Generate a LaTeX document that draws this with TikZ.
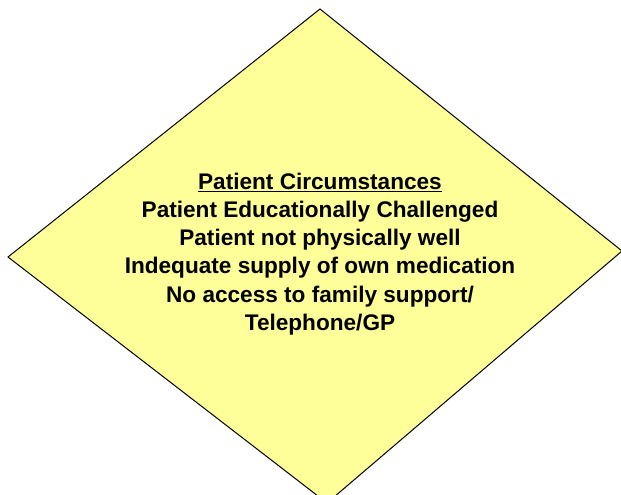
\documentclass[tikz,border=0pt]{standalone}
\usepackage{fontspec}
\setmainfont{Liberation Sans}
\definecolor{diafill}{HTML}{FFFF99}
\tikzset{
  diaborder/.style={draw=black, line width=1pt, fill=diafill, line join=miter},
  label text/.style={align=center, font=\bfseries\fontsize{22.6}{28.3}\selectfont, inner sep=0pt}
}
\begin{document}
\begin{tikzpicture}[x=1pt,y=-1pt]
\useasboundingbox (0,0) rectangle (621,495);
\begin{scope}
\clip (0,0) rectangle (621,495);
\draw[diaborder] (320,9) coordinate (top) -- (622,251) coordinate (right) -- (327,503) coordinate (bottom) -- (8,257) coordinate (left) -- cycle;
\end{scope}
\node[label text] (txt) at (320,254) {\underline{Patient Circumstances}\\Patient Educationally Challenged\\Patient not physically well\\Indequate supply of own medication\\No access to family support/\\Telephone/GP};
\end{tikzpicture}
\end{document}
